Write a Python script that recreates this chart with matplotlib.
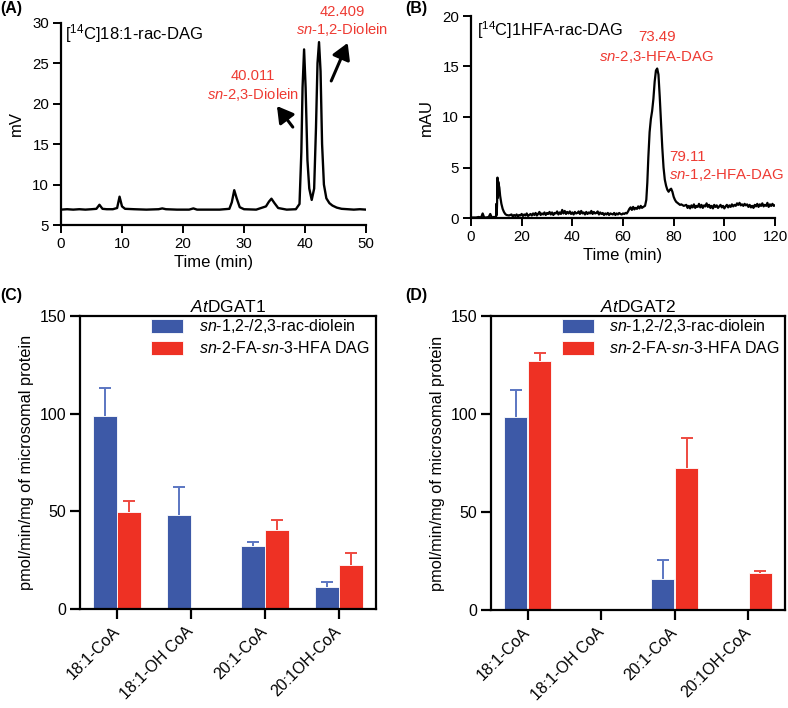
import numpy as np
import matplotlib
matplotlib.use("Agg")
import matplotlib.pyplot as plt

plt.rcParams['font.family'] = ['Liberation Sans', 'DejaVu Sans']
plt.rcParams['mathtext.fontset'] = 'custom'
plt.rcParams['mathtext.rm'] = 'Liberation Sans'
plt.rcParams['mathtext.it'] = 'Liberation Sans:italic'
plt.rcParams['mathtext.bf'] = 'Liberation Sans:bold'

# ---------------- data ----------------
# Panel A chromatogram ([14C]18:1-rac-DAG), time (min) vs mV
A_time = [0, 1, 2, 3, 4, 5, 5.8, 6.3, 6.8, 7.5, 8.5, 9.2, 9.6, 10.0, 10.5, 12, 14, 16,
          16.6, 17.2, 19, 21, 21.7, 22.3, 24, 26, 27.6, 28.0, 28.4, 28.8, 29.3, 30, 32,
          33.6, 34.1, 34.5, 35.0, 35.6, 37, 38.5, 39.1, 39.4, 39.6, 39.85, 40.1, 40.4,
          40.7, 41.1, 41.5, 41.8, 42.05, 42.3, 42.55, 42.8, 43.1, 43.5, 44.0, 44.5, 45.2,
          46, 47, 48, 49, 50]
A_signal = [6.9, 6.95, 6.9, 6.95, 6.9, 6.95, 7.0, 7.5, 7.0, 6.95, 6.95, 7.1, 8.5, 7.3, 7.0,
            6.95, 6.9, 6.95, 7.05, 6.95, 6.9, 6.9, 7.05, 6.9, 6.9, 6.9, 7.0, 7.8, 9.3, 8.3,
            7.2, 6.95, 6.9, 7.3, 7.9, 8.25, 7.7, 7.1, 6.9, 6.95, 7.6, 14, 22, 26.7, 22, 13,
            9.5, 8.1, 9.5, 17, 25, 27.6, 24, 15, 10.0, 8.3, 7.7, 7.4, 7.15, 7.0, 6.95, 6.9,
            6.95, 6.9]

# Panel B chromatogram ([14C]1HFA-rac-DAG), time (min) vs mAU
# early part (0-15 min, solvent spike)
B_time_early = [0, 1, 2, 3, 4, 4.6, 5.2, 6, 7, 7.6, 8.2, 9, 9.9, 10.0, 10.15, 10.3, 10.45,
                10.6, 10.75, 10.95, 11.2, 11.5, 12.0, 12.5, 13.0, 13.5, 14, 15]
B_signal_early = [0.05, 0.05, 0.05, 0.1, 0.05, 0.45, 0.05, 0.05, 0.1, 0.4, 0.05, 0.1, 0.1,
                  1.4, 0.3, 1.5, 4.0, 2.0, 3.6, 3.3, 3.0, 2.2, 1.4, 0.9, 0.6, 0.4, 0.3,
                  0.25]
# baseline 16-68 min, sampled every 0.5 min
B_signal_mid = [0.35, 0.15, 0.3, 0.2, 0.35, 0.15, 0.3, 0.25, 0.4, 0.2,
                0.35, 0.25, 0.45, 0.2, 0.3, 0.4, 0.25, 0.45, 0.3, 0.5,
                0.25, 0.4, 0.6, 0.3, 0.45, 0.35, 0.55, 0.3, 0.5, 0.4,
                0.6, 0.35, 0.55, 0.3, 0.5, 0.45, 0.65, 0.35, 0.55, 0.4,
                0.8, 0.45, 0.7, 0.4, 0.6, 0.45, 0.65, 0.4, 0.55, 0.35,
                0.6, 0.45, 0.5, 0.65, 0.4, 0.7, 0.45, 0.55, 0.35, 0.6,
                0.4, 0.55, 0.45, 0.7, 0.4, 0.6, 0.45, 0.5, 0.65, 0.35,
                0.55, 0.4, 0.5, 0.3, 0.45, 0.35, 0.5, 0.3, 0.45, 0.4,
                0.35, 0.5, 0.3, 0.45, 0.35, 0.5, 0.4, 0.35, 0.45, 0.4,
                0.5, 0.45, 0.65, 0.9, 1.05, 0.8, 1.1, 0.85, 1.0, 0.9,
                1.15, 0.95, 1.2, 1.0, 1.1]
B_time_mid_start = 16.0
# main peaks
B_time_peak = [68.7, 69.2, 69.6, 70.0, 70.5, 71.0, 71.5, 72.0, 72.5, 73.0, 73.5, 74.0, 74.5,
               75.0, 75.5, 76.0, 76.5, 77.0, 77.5, 78.0, 78.5, 79.0, 79.5, 80.0, 80.5, 81,
               81.5, 82, 82.5, 83, 84]
B_signal_peak = [1.2, 1.8, 3.5, 6.0, 8.5, 9.8, 10.6, 11.8, 13.5, 14.6, 14.8, 14.2, 12.0,
                 9.5, 7.0, 5.0, 3.8, 3.2, 2.8, 2.6, 2.8, 2.9, 2.6, 2.1, 1.8, 1.6, 1.5, 1.4,
                 1.3, 1.35, 1.2]
# late baseline 84.5-120 min, sampled every 0.5 min
B_signal_late = [1.25, 1.3, 1.0, 1.2, 0.95, 1.25, 1.05, 1.35, 1.0, 1.2,
                 1.1, 1.4, 1.05, 1.3, 1.0, 1.25, 1.15, 1.45, 1.1, 1.3,
                 1.0, 1.2, 0.95, 1.3, 1.1, 1.25, 1.0, 1.15, 1.3, 1.05,
                 1.2, 0.95, 1.15, 1.3, 1.05, 1.25, 1.1, 1.35, 1.15, 1.3,
                 1.2, 1.45, 1.3, 1.5, 1.25, 1.35, 1.2, 1.4, 1.25, 1.35,
                 1.1, 1.3, 1.05, 1.2, 1.0, 1.3, 1.15, 1.4, 1.1, 1.35,
                 1.2, 1.45, 1.15, 1.3, 1.2, 1.5, 1.1, 1.35, 1.2, 1.4,
                 1.2, 1.25]
B_time_late_start = 84.5
B_sample_step = 0.5

# Panels C/D bar data
substrates = ['18:1-CoA', '18:1-OH CoA', '20:1-CoA', '20:1OH-CoA']
series_names = [r'$\it{sn}$-1,2-/2,3-rac-diolein', r'$\it{sn}$-2-FA-$\it{sn}$-3-HFA DAG']
C_diolein = [98.7, 48.3, 32.4, 11.4]
C_diolein_err = [14.5, 14.3, 1.9, 2.2]
C_hfa = [49.6, np.nan, 40.6, 22.3]
C_hfa_err = [5.5, np.nan, 5.1, 6.2]
D_diolein = [98.7, np.nan, 15.8, np.nan]
D_diolein_err = [13.6, np.nan, 9.5, np.nan]
D_hfa = [126.9, np.nan, 72.5, 18.7]
D_hfa_err = [4.2, np.nan, 15.5, 1.3]

BLUE = '#3D59A7'
BLUE_ERR = '#5B76C2'
RED = '#EE3124'
RED_ERR = '#EE4A40'
ANN_RED = '#EE3B33'

B_time = (list(B_time_early)
          + list(B_time_mid_start + B_sample_step * np.arange(len(B_signal_mid)))
          + list(B_time_peak)
          + list(B_time_late_start + B_sample_step * np.arange(len(B_signal_late))))
B_signal = B_signal_early + B_signal_mid + B_signal_peak + B_signal_late

fig = plt.figure(figsize=(7.88, 7.08), dpi=100)
W, H = 788.0, 708.0


def ax_at(l, r, t, b):
    return fig.add_axes([l / W, (H - b) / H, (r - l) / W, (b - t) / H])


def style_chrom(ax):
    for s in ['top', 'right']:
        ax.spines[s].set_visible(False)
    for s in ['left', 'bottom']:
        ax.spines[s].set_linewidth(1.6)
    ax.tick_params(width=1.4, length=5.5, labelsize=10.8, pad=3)


# ---------------- Panel A ----------------
axA = ax_at(61, 366, 22.7, 225)
axA.plot(A_time, A_signal, color='black', lw=1.7)
axA.set_xlim(0, 50)
axA.set_ylim(5, 30)
axA.set_xticks([0, 10, 20, 30, 40, 50])
axA.set_yticks([5, 10, 15, 20, 25, 30])
style_chrom(axA)
axA.set_xlabel('Time (min)', fontsize=12, labelpad=3)
axA.set_ylabel('mV', fontsize=12, labelpad=6)
axA.text(0.7, 28.7, r'[$^{14}$C]18:1-rac-DAG', fontsize=12, va='center', ha='left')
axA.text(31.5, 23.4, '40.011', color=ANN_RED, fontsize=10.6, ha='center', va='center')
axA.text(31.5, 21.1, r'$\it{sn}$-2,3-Diolein', color=ANN_RED, fontsize=10.6,
         ha='center', va='center')
axA.text(46.1, 31.3, '42.409', color=ANN_RED, fontsize=10.6, ha='center', va='center',
         clip_on=False)
axA.text(46.1, 29.2, r'$\it{sn}$-1,2-Diolein', color=ANN_RED, fontsize=10.6,
         ha='center', va='center', clip_on=False)
arrow_kw = dict(arrowstyle='-|>,head_length=0.6,head_width=0.35', lw=2.2, color='black',
                mutation_scale=16, shrinkA=0, shrinkB=0)
axA.annotate('', xy=(35.4, 19.7), xytext=(38.0, 17.1), arrowprops=arrow_kw)
axA.annotate('', xy=(47.0, 27.5), xytext=(44.3, 22.8), arrowprops=arrow_kw,
             annotation_clip=False)

# ---------------- Panel B ----------------
axB = ax_at(471, 775, 16, 218)
axB.plot(B_time, B_signal, color='black', lw=1.6)
axB.set_xlim(0, 120)
axB.set_ylim(0, 20)
axB.set_xticks([0, 20, 40, 60, 80, 100, 120])
axB.set_yticks([0, 5, 10, 15, 20])
style_chrom(axB)
axB.set_xlabel('Time (min)', fontsize=12, labelpad=3)
axB.set_ylabel('mAU', fontsize=12, labelpad=6)
axB.text(2.4, 18.6, r'[$^{14}$C]1HFA-rac-DAG', fontsize=11.8, va='center', ha='left')
axB.text(73.4, 17.9, '73.49', color=ANN_RED, fontsize=10.8, ha='center', va='center')
axB.text(73.4, 15.9, r'$\it{sn}$-2,3-HFA-DAG', color=ANN_RED, fontsize=10.8,
         ha='center', va='center')
axB.text(78.2, 6.0, '79.11', color=ANN_RED, fontsize=10.8, ha='left', va='center')
axB.text(78.2, 4.3, r'$\it{sn}$-1,2-HFA-DAG', color=ANN_RED, fontsize=10.8,
         ha='left', va='center', clip_on=False)


# ---------------- Panels C/D ----------------
def bar_panel(ax, v1, e1, v2, e2, title):
    x = np.arange(len(substrates))
    w = 0.315
    off = 0.163
    ax.bar(x - off, v1, w, color=BLUE, edgecolor='white', linewidth=0.6,
           label=series_names[0], zorder=2)
    ax.bar(x + off, v2, w, color=RED, edgecolor='white', linewidth=0.6,
           label=series_names[1], zorder=2)
    for xs, vals, errs, col in [(x - off, v1, e1, BLUE_ERR), (x + off, v2, e2, RED_ERR)]:
        vals = np.asarray(vals, float)
        errs = np.asarray(errs, float)
        m = ~np.isnan(vals)
        _, caps, _ = ax.errorbar(xs[m], vals[m], yerr=[np.zeros(m.sum()), errs[m]],
                                 fmt='none', ecolor=col, elinewidth=1.4, capsize=4.3,
                                 capthick=1.4, zorder=1)
        caps[0].set_visible(False)
    ax.set_xlim(-0.5, 3.5)
    ax.set_ylim(0, 150)
    ax.set_yticks([0, 50, 100, 150])
    ax.set_xticks(x)
    ax.set_xticklabels(substrates, rotation=45, ha='right', va='center',
                       rotation_mode='anchor', fontsize=12.2)
    for s in ax.spines.values():
        s.set_linewidth(1.6)
    ax.tick_params(axis='both', width=1.6, length=7, labelsize=11.5, pad=3)
    ax.tick_params(axis='x', pad=7.5)
    ax.set_ylabel('pmol/min/mg of microsomal protein', fontsize=11.8, labelpad=4)
    ax.set_title(title, fontsize=12.5, pad=3)
    ax.legend(loc='upper left', bbox_to_anchor=(0.24, 0.995), frameon=False,
              fontsize=11.5, handlelength=2.0, handleheight=1.0, handletextpad=1.0,
              labelspacing=0.3, borderpad=0, borderaxespad=0)


axC = ax_at(80, 376, 316, 609)
bar_panel(axC, C_diolein, C_diolein_err, C_hfa, C_hfa_err, r'$\it{At}$DGAT1')
axD = ax_at(491, 785, 316, 610)
bar_panel(axD, D_diolein, D_diolein_err, D_hfa, D_hfa_err, r'$\it{At}$DGAT2')

# panel letters
for lbl, px, py in [('(A)', 0, 8), ('(B)', 405, 8), ('(C)', 0, 296), ('(D)', 405, 296)]:
    fig.text(px / W, 1 - py / H, lbl, fontsize=11.5, fontweight='bold', ha='left',
             va='center')

fig.savefig('out.png', dpi=100)
